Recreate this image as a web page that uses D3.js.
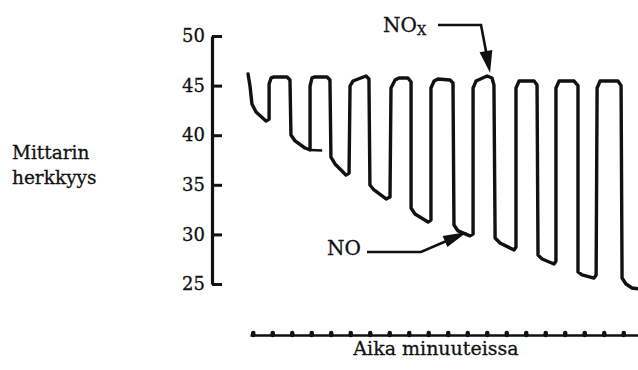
<!DOCTYPE html>
<html>
<head>
<meta charset="utf-8">
<script src="https://cdn.jsdelivr.net/npm/d3@7"></script>
<style>
  body { margin: 0; background: #fff; }
  svg text { font-family: "DejaVu Serif", "Liberation Serif", serif; fill: #111; stroke: #111; stroke-width: 0.3px; }
</style>
</head>
<body>
<div id="chart"></div>
<script>
// tick values
var minuteTicks = d3.range(0, 20);
var levelTicks = [25, 30, 35, 40, 45, 50];

// recorder trace (minutes, meter reading)
var traceMin = [-0.24, -0.14, -0.04, 0.17, 0.68, 0.84, 0.84, 0.94, 1.09, 1.76, 1.91, 1.96, 2.17, 2.68, 2.94,
  2.94, 3.04, 3.19, 3.81, 3.96, 4.01, 4.22, 4.78, 4.94,
  4.99, 5.14, 5.81, 5.96, 6.01, 6.22, 6.84, 7.04,
  7.09, 7.30, 7.50, 7.96, 8.12, 8.12, 8.32, 8.99, 9.14,
  9.14, 9.30, 9.50, 10.12, 10.27, 10.32, 10.53, 11.14, 11.30,
  11.30, 11.45, 12.02, 12.27, 12.37, 12.43, 12.68, 13.40, 13.50,
  13.50, 13.66, 14.43, 14.58, 14.63, 14.84, 15.45, 15.55,
  15.55, 15.71, 16.48, 16.68, 16.68, 16.89, 17.50, 17.61,
  17.66, 17.81, 18.73, 18.89, 18.94, 19.14, 19.45, 19.86];
var traceVal = [46.17, 44.96, 43.15, 42.34, 41.43, 41.63, 45.16, 45.77, 45.87, 45.87, 45.56, 40.02, 39.42, 38.71, 38.51,
  44.96, 45.77, 45.87, 45.87, 45.56, 37.80, 37.10, 35.99, 36.19,
  44.96, 45.46, 45.97, 45.67, 34.98, 34.48, 33.57, 33.77,
  44.76, 45.56, 45.77, 45.77, 45.36, 32.66, 32.06, 31.25, 31.45,
  44.76, 45.46, 45.67, 45.56, 45.26, 30.95, 30.35, 29.85, 30.04,
  44.76, 45.46, 45.97, 45.77, 45.06, 29.64, 29.13, 28.43, 28.73,
  44.76, 45.46, 45.46, 45.06, 27.92, 27.52, 27.02, 27.32,
  44.76, 45.46, 45.46, 45.00, 26.21, 25.91, 25.60, 25.91,
  44.76, 45.46, 45.46, 45.00, 25.60, 25.00, 24.60, 24.50];
// little pen stub after the second dip
var stubMin = [2.94, 3.56];
var stubVal = [38.51, 38.46];

var trace = traceMin.map(function(t, i) { return [t, traceVal[i]]; });
var stub = stubMin.map(function(t, i) { return [t, stubVal[i]]; });

var width = 638, height = 370;

var svg = d3.select("#chart")
  .append("svg")
  .attr("width", width)
  .attr("height", height);

var x = d3.scaleLinear().domain([-0.14, 19.86]).range([250, 640]);
var y = d3.scaleLinear().domain([25, 50]).range([284, 36]);

// y axis, ticks pointing inward
var yAxis = svg.append("g")
  .attr("transform", "translate(212,0)")
  .call(d3.axisLeft(y).tickValues(levelTicks).tickSizeInner(-10).tickSizeOuter(0).tickPadding(7));
yAxis.select(".domain").attr("stroke", "#111").attr("stroke-width", 3.2);
yAxis.selectAll(".tick line").attr("stroke", "#111").attr("stroke-width", 3);
yAxis.selectAll(".tick text")
  .style("font-family", '"DejaVu Serif", serif')
  .style("font-size", "18px")
  .attr("fill", "#111");

// time axis: plain rule with small bumps
var xAxis = svg.append("g")
  .attr("transform", "translate(0,335)")
  .call(d3.axisBottom(x).tickValues(minuteTicks).tickSizeInner(-2).tickSizeOuter(0).tickFormat(""));
xAxis.select(".domain").attr("stroke", "#111").attr("stroke-width", 2.6);
xAxis.selectAll(".tick line")
  .attr("stroke", "#111")
  .attr("stroke-width", 4.5)
  .attr("stroke-linecap", "round");

// trace
var line = d3.line()
  .x(function(d) { return x(d[0]); })
  .y(function(d) { return y(d[1]); });

svg.append("path")
  .datum(trace)
  .attr("fill", "none")
  .attr("stroke", "#111")
  .attr("stroke-width", 3.4)
  .attr("stroke-linejoin", "round")
  .attr("stroke-linecap", "round")
  .attr("d", line);

svg.append("path")
  .datum(stub)
  .attr("fill", "none")
  .attr("stroke", "#111")
  .attr("stroke-width", 2.4)
  .attr("d", line);

// axis titles
var yTitle = svg.append("text")
  .attr("x", 12)
  .attr("y", 159)
  .style("font-size", "18.5px");
yTitle.append("tspan").attr("x", 12).text("Mittarin");
yTitle.append("tspan").attr("x", 12).attr("dy", 24.5).text("herkkyys");

svg.append("text")
  .attr("x", 436)
  .attr("y", 355)
  .attr("text-anchor", "middle")
  .style("font-size", "19px")
  .text("Aika minuuteissa");

// arrow helper: leader line through pts, filled head at the last point
function arrow(pts, headLen, headW) {
  svg.append("path")
    .attr("d", d3.line()(pts.slice(0, -1).concat([headBase(pts, headLen * 0.7)])))
    .attr("fill", "none")
    .attr("stroke", "#111")
    .attr("stroke-width", 2.6);
  var tip = pts[pts.length - 1], prev = pts[pts.length - 2];
  var dx = tip[0] - prev[0], dy = tip[1] - prev[1], len = Math.hypot(dx, dy);
  var ux = dx / len, uy = dy / len;
  var bx = tip[0] - ux * headLen, by = tip[1] - uy * headLen;
  svg.append("path")
    .attr("d", "M" + tip + "L" + [bx - uy * headW / 2, by + ux * headW / 2] +
      "L" + [bx + uy * headW / 2, by - ux * headW / 2] + "Z")
    .attr("fill", "#111");
}
function headBase(pts, back) {
  var tip = pts[pts.length - 1], prev = pts[pts.length - 2];
  var dx = tip[0] - prev[0], dy = tip[1] - prev[1], len = Math.hypot(dx, dy);
  return [tip[0] - dx / len * back, tip[1] - dy / len * back];
}

// NOx label pointing at a peak
var noxTip = [x(12.17), y(46.3)];
var nox = svg.append("text").attr("x", 383).attr("y", 32).style("font-size", "20px");
nox.append("tspan").text("NO");
nox.append("tspan").attr("dy", 3).style("font-size", "13px").text("X");
arrow([[438, 25], [481, 25], noxTip], 22, 13);

// NO label pointing at a dip bottom
var noTip = [x(10.99), y(30.24)];
svg.append("text").attr("x", 327).attr("y", 255).style("font-size", "20px").text("NO");
arrow([[367, 252], [421, 252], noTip], 24, 12);
</script>
</body>
</html>
